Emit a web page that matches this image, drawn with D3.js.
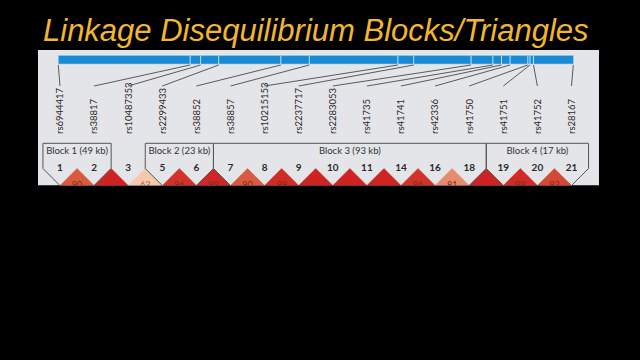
<!DOCTYPE html>
<html><head><meta charset="utf-8">
<script src="https://cdn.jsdelivr.net/npm/d3@7"></script>
<style>html,body{margin:0;padding:0;background:#000;}svg{display:block;}</style>
</head><body>
<svg id="chart" width="640" height="360"></svg>
<script>
// ---- data ----
const snpNames = ["rs6944417","rs38817","rs10487353","rs2299433","rs38852","rs38857","rs10215153","rs2237717","rs2283053","rs41735","rs41741","rs42336","rs41750","rs41751","rs41752","rs28167"];
const snpNumbers = [1,2,3,5,6,7,8,9,10,11,14,16,18,19,20,21];
const snpPosKb = [0,49.0,52.9,59.6,82.7,93.3,126.2,132.1,153.4,161.5,164.7,167.9,174.5,175.3,176.6,191.4];
// D' (x100) between adjacent markers; 100 = no number shown
const ldAdjacent = [90,100,63,96,99,90,98,100,100,100,96,81,100,98,93];
const blockNames = ["Block 1 (49 kb)","Block 2 (23 kb)","Block 3 (93 kb)","Block 4 (17 kb)"];
const blockFirst = [0,3,5,13];
const blockLast = [1,4,12,15];
const titleText = "Linkage Disequilibrium Blocks/Triangles";

// ---- drawing ----
const svg = d3.select("#chart");
svg.append("rect").attr("width",640).attr("height",360).attr("fill","#000");

svg.append("text").attr("x",43).attr("y",41)
  .attr("font-family","Liberation Sans, Arial, sans-serif").attr("font-style","italic")
  .attr("font-size",31).attr("fill","#f2b630").text(titleText);

const panel = {x:38, y:50, w:561, h:135.5};
svg.append("defs").append("clipPath").attr("id","pclip")
  .append("rect").attr("x",panel.x).attr("y",panel.y).attr("width",panel.w).attr("height",panel.h);
const g = svg.append("g").attr("clip-path","url(#pclip)");
g.append("rect").attr("x",panel.x).attr("y",panel.y).attr("width",panel.w).attr("height",panel.h).attr("fill","#e4e5e9");

// physical position scale (bar)
const xPos = d3.scaleLinear().domain([0, d3.max(snpPosKb)]).range([58.3, 573.3]);
// marker index scale
const xIdx = d3.scalePoint().domain(d3.range(snpNames.length)).range([60, 571.5]);
const d = xIdx.step();

const barY = 55.5, barH = 8.5;
g.append("rect").attr("x",xPos.range()[0]).attr("y",barY).attr("width",xPos.range()[1]-xPos.range()[0]).attr("height",barH)
  .attr("fill","#1a8ad2").attr("stroke","#8fcbee").attr("stroke-width",0.6);
g.selectAll("line.sep").data(snpPosKb.slice(1,-1)).join("line").attr("class","sep")
  .attr("x1",v=>xPos(v)).attr("x2",v=>xPos(v)).attr("y1",barY).attr("y2",barY+barH)
  .attr("stroke","#bfe4f7").attr("stroke-width",1);

// connectors
g.selectAll("line.con").data(snpPosKb).join("line").attr("class","con")
  .attr("x1",v=>xPos(v)).attr("y1",barY+barH+1)
  .attr("x2",(v,i)=>xIdx(i)).attr("y2",86)
  .attr("stroke","#4a4a4a").attr("stroke-width",0.9);

// rotated names
g.selectAll("text.name").data(snpNames).join("text").attr("class","name")
  .attr("transform",(s,i)=>`translate(${xIdx(i)},134) rotate(-90)`)
  .attr("dy","0.35em").attr("text-anchor","start")
  .attr("font-family","Lato, sans-serif").attr("font-size",9.5).attr("fill","#2a2a2a")
  .text(s=>s);

// LD diamonds
const yA = 168.5;
const color = d3.scaleLinear().domain([63,81,90,96,100])
  .range(["#f6c8ad","#e68b6e","#d95a3e","#d23329","#cf2323"]);
const pairs = ldAdjacent.map((v,i)=>({i, v}));
g.selectAll("path.dia").data(pairs).join("path").attr("class","dia")
  .attr("d",p=>{
    const x0 = xIdx(p.i), x1 = xIdx(p.i+1), xm=(x0+x1)/2, h=(x1-x0)/2;
    return `M${xm},${yA}L${x1},${yA+h}L${xm},${yA+2*h}L${x0},${yA+h}Z`;
  })
  .attr("fill",p=>color(p.v)).attr("stroke",p=>color(p.v)).attr("stroke-width",0.5);
g.selectAll("text.ld").data(pairs.filter(p=>p.v<100)).join("text").attr("class","ld")
  .attr("x",p=>(xIdx(p.i)+xIdx(p.i+1))/2).attr("y",yA+d/2+2.5)
  .attr("text-anchor","middle").attr("font-family","Lato, sans-serif").attr("font-size",9)
  .attr("fill",p=>p.v<70?"#9a6048":"#7a2c1c").text(p=>p.v);

// marker numbers
g.selectAll("text.num").data(snpNumbers).join("text").attr("class","num")
  .attr("x",(n,i)=>xIdx(i)).attr("y",170.5)
  .attr("text-anchor","middle").attr("font-family","Lato, sans-serif").attr("font-weight","bold")
  .attr("font-size",10).attr("fill","#2a2a2a").text(n=>n);

// block outlines and headers
const blocks = blockNames.map((name,k)=>({name, a:blockFirst[k], b:blockLast[k]}));
const yTop = 143.3;
g.selectAll("path.blk").data(blocks).join("path").attr("class","blk")
  .attr("d",bk=>{
    const xa = xIdx(bk.a), xb = xIdx(bk.b);
    const xl = xa - d/2, xr = xb + d/2;
    const bottom = yA + (xb-xa)/2 + d/2;
    return `M${(xa+xb)/2},${bottom}L${xl},${yA}L${xl},${yTop}L${xr},${yTop}L${xr},${yA}Z`;
  })
  .attr("fill","none").attr("stroke","#555").attr("stroke-width",1);
g.selectAll("text.blk").data(blocks).join("text").attr("class","blk")
  .attr("x",bk=>(xIdx(bk.a)+xIdx(bk.b))/2).attr("y",153.5)
  .attr("text-anchor","middle").attr("font-family","Lato, sans-serif").attr("font-size",9.5)
  .attr("fill","#333").text(bk=>bk.name);
</script>
</body></html>
